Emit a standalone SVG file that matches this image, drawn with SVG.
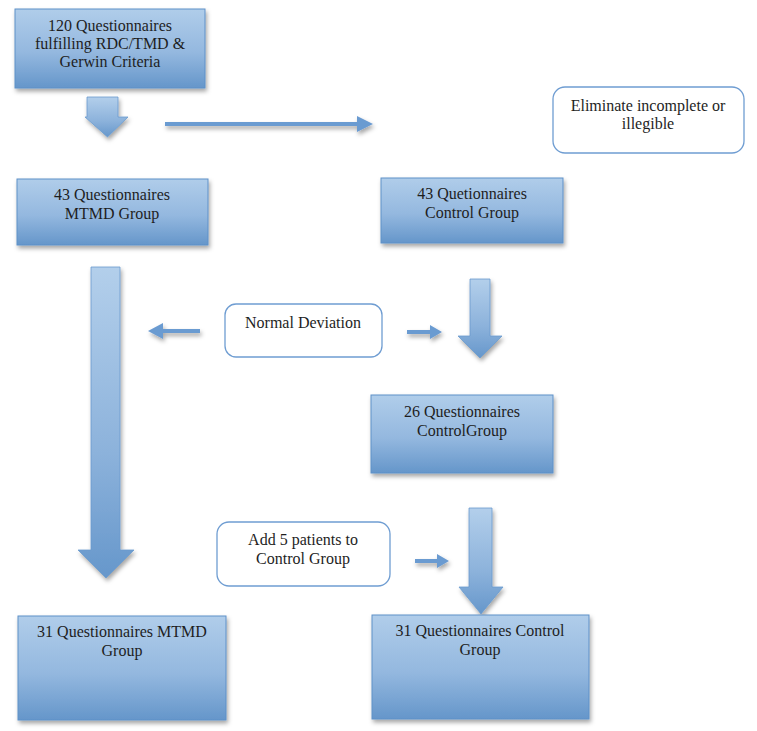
<svg xmlns="http://www.w3.org/2000/svg" width="757" height="731" viewBox="0 0 757 731">
<defs>
<linearGradient id="boxg" x1="0" y1="0" x2="0" y2="1">
<stop offset="0" stop-color="#b0cdea"/>
<stop offset="0.55" stop-color="#94b8df"/>
<stop offset="1" stop-color="#6596ca"/>
</linearGradient>
<linearGradient id="arrg" x1="0" y1="0" x2="0" y2="1">
<stop offset="0" stop-color="#b3cfeb"/>
<stop offset="0.6" stop-color="#8cb2db"/>
<stop offset="1" stop-color="#6697cb"/>
</linearGradient>
<filter id="sh" filterUnits="userSpaceOnUse" x="0" y="0" width="757" height="731">
<feDropShadow dx="1.5" dy="3" stdDeviation="2" flood-color="#000" flood-opacity="0.35"/>
</filter>
</defs>
<style>
.box{fill:url(#boxg);stroke:#5f91c8;stroke-width:1;filter:url(#sh)}
.rbox{fill:#fff;stroke:#6f9dd2;stroke-width:1.3}
.t{font-size:16px;fill:#1e1e1e;text-anchor:middle}
.arr{fill:url(#arrg);stroke:#6a9ace;stroke-width:0.8;filter:url(#sh)}
.hz{fill:#6b9bd1;filter:url(#sh)}
</style>
<rect width="757" height="731" fill="#fff"/>
<g id="connectors">
<path class="arr" d="M87,97 H118 V117 H128 L107.5,137 L85,117 H87 Z"/>
<path class="hz" d="M165,122 H357 V116 L373,124 L357,132 V126 H165 Z"/>
<path class="arr" d="M91,267 H120 V550 H134 L106,578 L78,550 H91 Z"/>
<path class="hz" d="M200,329 H163 V323 L148,331 L163,339 V333 H200 Z"/>
<path class="hz" d="M407,330 H430 V325 L442,332 L430,339 V334 H407 Z"/>
<path class="arr" d="M470,279 H490 V336 H502 L480,358 L458,336 H470 Z"/>
<path class="hz" d="M415,559 H437 V554 L449,561 L437,568 V563 H415 Z"/>
<path class="arr" d="M469,508 H492 V587 H503 L481,614 L459,587 H469 Z"/>
</g>
<g font-family="Liberation Serif, Times New Roman, DejaVu Serif, serif">
<g id="n120">
<rect class="box" x="15" y="9" width="190" height="79"/>
<text class="t" x="110" y="31">120 Questionnaires</text>
<text class="t" x="110" y="49">fulfilling RDC/TMD &amp;</text>
<text class="t" x="110" y="67">Gerwin Criteria</text>
</g>
<g id="eliminate">
<rect class="rbox" x="553" y="87" width="191" height="66" rx="12"/>
<text class="t" x="648" y="111">Eliminate incomplete or</text>
<text class="t" x="648" y="129">illegible</text>
</g>
<g id="mtmd43">
<rect class="box" x="17" y="179" width="191" height="66"/>
<text class="t" x="112" y="200">43 Questionnaires</text>
<text class="t" x="112" y="219">MTMD Group</text>
</g>
<g id="control43">
<rect class="box" x="381" y="178" width="182" height="65"/>
<text class="t" x="472" y="199">43 Quetionnaires</text>
<text class="t" x="472" y="218">Control Group</text>
</g>
<g id="normal">
<rect class="rbox" x="225" y="304" width="157" height="53" rx="11"/>
<text class="t" x="303" y="328">Normal Deviation</text>
</g>
<g id="control26">
<rect class="box" x="371" y="395" width="182" height="78"/>
<text class="t" x="462" y="417">26 Questionnaires</text>
<text class="t" x="462" y="436">ControlGroup</text>
</g>
<g id="add5">
<rect class="rbox" x="217" y="522" width="173" height="64" rx="12"/>
<text class="t" x="303" y="545">Add 5 patients to</text>
<text class="t" x="303" y="564">Control Group</text>
</g>
<g id="mtmd31">
<rect class="box" x="18" y="616" width="208" height="104"/>
<text class="t" x="122" y="637">31 Questionnaires MTMD</text>
<text class="t" x="122" y="656">Group</text>
</g>
<g id="control31">
<rect class="box" x="372" y="615" width="217" height="104"/>
<text class="t" x="480" y="636">31 Questionnaires Control</text>
<text class="t" x="480" y="655">Group</text>
</g>
</g>
</svg>
